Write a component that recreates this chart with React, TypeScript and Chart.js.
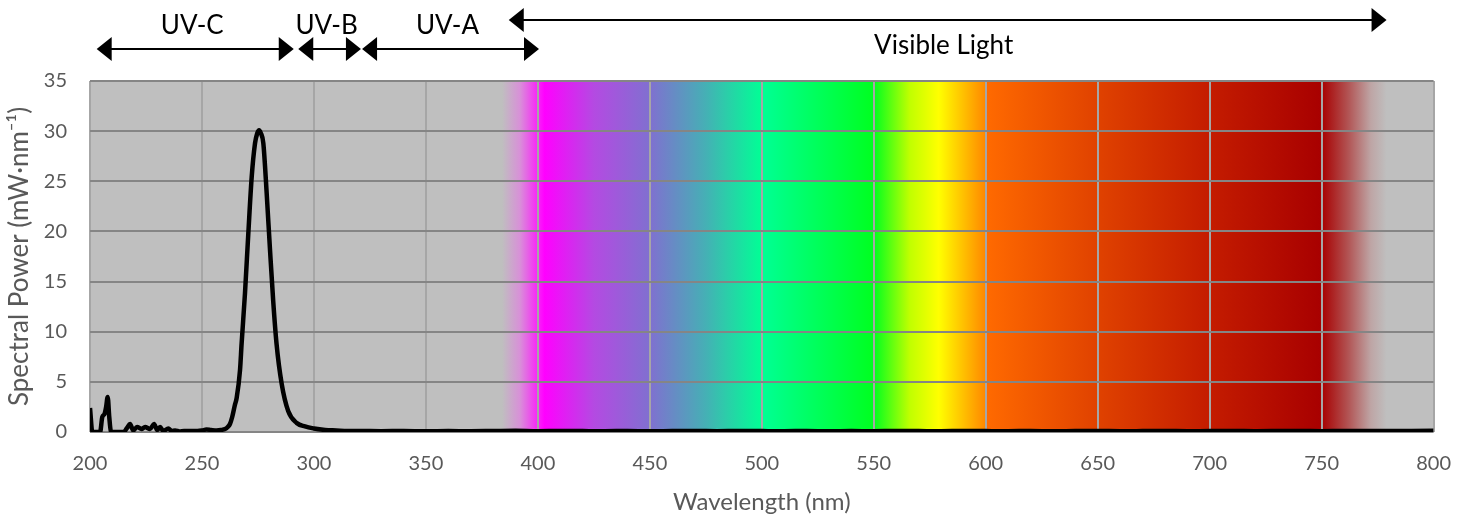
import { useEffect, useRef } from "react";
import { Chart, registerables } from "chart.js";

Chart.register(...registerables);

// Spectral power distribution (wavelength in nm, power in mW·nm⁻¹)
const wavelengths = [
  200, 201, 202, 204.5, 205.5, 206.5, 207.2, 207.9, 208.6, 209.3, 210, 215,
  216.5, 217.9, 219.3, 221, 223, 224.6, 226.8, 228.6, 230, 231.3, 232.7, 235,
  236.5, 238, 240, 242, 245, 248, 250, 252, 254, 256.6, 258.5, 260.3, 261.5,
  262.5, 263.5, 264.7, 265.5, 267, 267.7, 269.2, 270.7, 272.2, 273.7, 274.7,
  275.5, 276.3, 277.4, 278.9, 280.4, 281.8, 283.3, 285.6, 288.5, 292.3, 296,
  300, 305, 310, 315, 320, 330, 340, 350, 360, 370, 380, 390, 400, 410, 420,
  430, 440, 450, 460, 470, 480, 490, 500, 510, 520, 530, 540, 550, 560, 570,
  580, 590, 600, 610, 620, 630, 640, 650, 660, 670, 680, 690, 700, 710, 720,
  730, 740, 750, 760, 770, 780, 790, 800,
];
const power = [
  2.4, 0.1, 0, 0, 1.5, 1.8, 2.5, 3.5, 1.5, 0.1, 0, 0,
  0.4, 0.8, 0.15, 0.5, 0.3, 0.5, 0.3, 0.8, 0.2, 0.5, 0.1, 0.35,
  0.1, 0.15, 0.05, 0.1, 0.1, 0.1, 0.15, 0.25, 0.2, 0.15, 0.2, 0.3, 0.5,
  0.8, 1.5, 2.7, 3.4, 6.2, 8.8, 13.8, 19.8, 25.4, 28.8, 29.8,
  30.1, 29.8, 28.8, 23.8, 18.1, 13.1, 8.8, 4.8, 2.1, 0.9, 0.55,
  0.35, 0.2, 0.15, 0.1, 0.1, 0.08, 0.1, 0.07, 0.09, 0.08, 0.1, 0.12, 0.08, 0.1, 0.09,
  0.08, 0.1, 0.07, 0.09, 0.1, 0.08, 0.1, 0.09, 0.08, 0.1, 0.07, 0.09, 0.08, 0.1, 0.09,
  0.08, 0.1, 0.09, 0.08, 0.1, 0.07, 0.09, 0.1, 0.08, 0.09, 0.1, 0.08, 0.09, 0.1, 0.08,
  0.09, 0.1, 0.08, 0.1, 0.09, 0.1, 0.11, 0.12,
];

// Background spectrum colour stops (wavelength nm -> colour)
const spectrumWavelengths = [
  384, 392, 398, 403, 425, 450, 475, 500, 550, 566, 579, 599.8, 600.2, 650,
  700, 750, 762, 772, 779,
];
const spectrumColors = [
  "#BFBFBF", "#D890D8", "#F040F0", "#FF00FF", "#B44AE2", "#8070D0", "#45B0B5",
  "#00FF95", "#00FF20", "#C0FF00", "#FFFF00", "#FF8800", "#FF6A00", "#E04200",
  "#C41C00", "#A80000", "#B25555", "#BEA5A5", "#BFBFBF",
];
const backgroundGray = "#BFBFBF";

// Band annotations
const bandLabels = ["UV-C", "UV-B", "UV-A", "Visible Light"];
const bandStart = [203, 293, 321.5, 387];
const bandEnd = [291, 321, 400.5, 779];
const bandUpperRow = [false, false, false, true];

const FONT = "Lato, 'Open Sans', sans-serif";

export default function App() {
  const canvasRef = useRef<HTMLCanvasElement | null>(null);

  useEffect(() => {
    document.body.style.margin = "0";
    const canvas = canvasRef.current;
    if (!canvas) return;

    const spectrumPlugin = {
      id: "spectrumBackground",
      beforeDraw(chart: any) {
        const { ctx, chartArea, scales } = chart;
        const { left, right, top, bottom } = chartArea;
        const x = scales.x;
        const g = ctx.createLinearGradient(left, 0, right, 0);
        g.addColorStop(0, backgroundGray);
        spectrumWavelengths.forEach((w, i) => {
          let p = (x.getPixelForValue(w) - left) / (right - left);
          p = Math.max(0, Math.min(1, p));
          g.addColorStop(p, spectrumColors[i]);
        });
        g.addColorStop(1, backgroundGray);
        ctx.save();
        ctx.fillStyle = g;
        ctx.fillRect(left, top, right - left, bottom - top);
        ctx.restore();
      },
    };

    const bandPlugin = {
      id: "bandArrows",
      afterDraw(chart: any) {
        const { ctx, scales } = chart;
        const x = scales.x;
        const hl = 15;
        const hh = 12;
        ctx.save();
        ctx.fillStyle = "#000";
        ctx.strokeStyle = "#000";
        ctx.lineWidth = 2;
        bandLabels.forEach((label, i) => {
          const x1 = x.getPixelForValue(bandStart[i]);
          const x2 = x.getPixelForValue(bandEnd[i]);
          const upper = bandUpperRow[i];
          const y = upper ? 20 : 49;
          ctx.beginPath();
          ctx.moveTo(x1 + hl - 1, y);
          ctx.lineTo(x2 - hl + 1, y);
          ctx.stroke();
          ctx.beginPath();
          ctx.moveTo(x1, y);
          ctx.lineTo(x1 + hl, y - hh);
          ctx.lineTo(x1 + hl, y + hh);
          ctx.closePath();
          ctx.fill();
          ctx.beginPath();
          ctx.moveTo(x2, y);
          ctx.lineTo(x2 - hl, y - hh);
          ctx.lineTo(x2 - hl, y + hh);
          ctx.closePath();
          ctx.fill();
          ctx.font = `26px ${FONT}`;
          ctx.textAlign = "center";
          ctx.textBaseline = "middle";
          const ty = upper ? 46 : 26;
          ctx.fillText(label, (x1 + x2) / 2 - (upper ? 4 : 3), ty);
        });
        ctx.restore();
      },
    };

    const chart = new Chart(canvas, {
      type: "line",
      data: {
        datasets: [
          {
            data: wavelengths.map((w, i) => ({ x: w, y: power[i] })),
            borderColor: "#000000",
            borderWidth: 4.5,
            pointRadius: 0,
            fill: false,
            cubicInterpolationMode: "monotone",
          },
        ],
      },
      options: {
        animation: false,
        responsive: false,
        devicePixelRatio: 1,
        layout: { padding: { top: 81, right: 37, left: 0, bottom: 0 } },
        plugins: {
          legend: { display: false },
          tooltip: { enabled: false },
        },
        scales: {
          x: {
            type: "linear",
            min: 200,
            max: 800,
            ticks: {
              stepSize: 50,
              padding: 20,
              color: "#595959",
              font: { family: FONT, size: 20 },
              maxRotation: 0,
            },
            grid: { color: "#A6A6A6", lineWidth: 2, drawTicks: false },
            border: { display: false },
            title: {
              display: true,
              text: "Wavelength (nm)",
              color: "#595959",
              font: { family: FONT, size: 24 },
              padding: { top: 0, bottom: 1 },
            },
            afterFit(scale: any) {
              scale.height = 86;
            },
          },
          y: {
            min: 0,
            max: 35,
            ticks: {
              stepSize: 5,
              padding: 23,
              color: "#595959",
              font: { family: FONT, size: 20 },
            },
            grid: { color: "#858585", lineWidth: 2, drawTicks: false },
            border: { display: false },
            title: {
              display: true,
              text: "Spectral Power (mW·nm⁻¹)",
              color: "#595959",
              font: { family: FONT, size: 26 },
              padding: { top: 4, bottom: 0 },
            },
            afterFit(scale: any) {
              scale.width = 90;
            },
          },
        },
      },
      plugins: [spectrumPlugin, bandPlugin],
    });

    return () => chart.destroy();
  }, []);

  return (
    <div style={{ width: 1471, height: 518 }}>
      <canvas ref={canvasRef} width={1471} height={518} style={{ display: "block" }} />
    </div>
  );
}
